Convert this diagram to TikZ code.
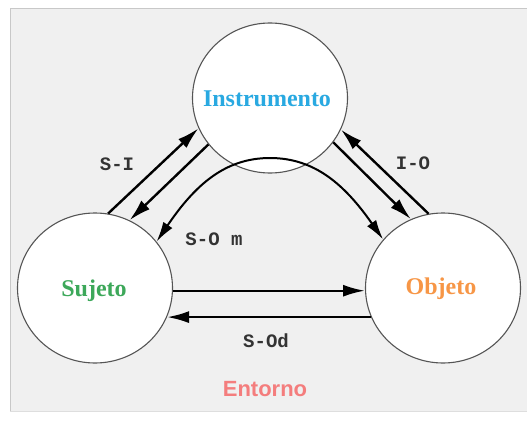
\documentclass[tikz,border=0pt]{standalone}
\usepackage{fontspec}
\usetikzlibrary{shapes.geometric,arrows.meta}
\newfontfamily\nodefont{Liberation Serif}
\newfontfamily\labfont{Liberation Mono}
\newfontfamily\envfont{Liberation Sans}
\definecolor{panel}{HTML}{F0F0F0}
\definecolor{paneledge}{HTML}{C8C8C8}
\definecolor{ringc}{HTML}{555555}
\definecolor{cinst}{HTML}{29A9E1}
\definecolor{csuj}{HTML}{3DA85A}
\definecolor{cobj}{HTML}{F79646}
\definecolor{cent}{HTML}{F47D7D}
\definecolor{labc}{HTML}{333333}
\tikzset{
  ring/.style={ellipse, draw=ringc, line width=1.1pt, fill=white, minimum width=155pt, minimum height=150pt, inner sep=0pt},
  ringtext/.style={inner sep=0pt, font=\nodefont\bfseries\fontsize{24}{28}\selectfont},
  arr/.style={line width=2.4pt, -{Latex[length=22pt,width=12pt]}},
  curvearr/.style={line width=2pt, {Latex[length=20pt,width=11pt]}-{Latex[length=20pt,width=11pt]}},
  lab/.style={text=labc, font=\labfont\bfseries\fontsize{19}{22}\selectfont, inner sep=0pt}
}
\begin{document}
\begin{tikzpicture}[x=1pt,y=-1pt]
\useasboundingbox (0,0) rectangle (527,420);
\fill[white] (0,0) rectangle (527,420);
\fill[panel] (10,8) rectangle (527,411);
\draw[paneledge, line width=1.2pt] (10.6,411) -- (10.6,8.6) -- (527,8.6);
\draw[paneledge!60, line width=0.8pt] (10,411) -- (527,411);

\node[ring] (ins) at (270,98) {};
\node[ring] (suj) at (95,288) {};
\node[ring] (obj) at (443,288) {};
\node[ringtext, text=cinst] (tins) at (267,99) {Instrumento};
\node[ringtext, text=csuj] (tsuj) at (94,291) {Sujeto};
\node[ringtext, text=cobj] (tobj) at (441,289) {Objeto};

\draw[arr] (suj.80) -- (ins.203);
\draw[arr] (ins.217) -- (suj.63);
\draw[arr] (obj.101) -- (ins.336);
\draw[arr] (ins.325) -- (obj.115);
\draw[arr] (suj.-2) -- (obj.182);
\draw[arr] (obj.202.5) -- (suj.-22.5);

\coordinate (apex) at (270,158);
\draw[curvearr] (suj.37) .. controls (195,185) and (225,158) .. (apex)
  .. controls (315,158) and (345,185) .. (obj.141);

\node[lab] (lsi) at (117,164) {S-I};
\node[lab] (lio) at (413,163) {I-O};
\node[lab] (lsom) at (214,239) {S-O m};
\node[lab] (lsod) at (266,341) {S-Od};
\node[text=cent, font=\envfont\bfseries\fontsize{22}{26}\selectfont] (ent) at (265,389) {Entorno};
\end{tikzpicture}
\end{document}
